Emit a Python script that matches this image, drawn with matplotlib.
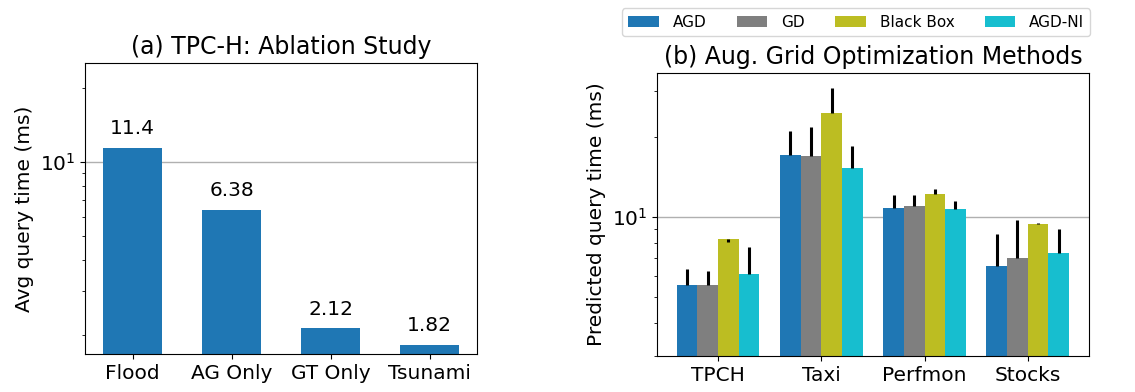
import numpy as np
import matplotlib
matplotlib.use('Agg')
import matplotlib.pyplot as plt
from matplotlib.ticker import NullFormatter

# (a) ablation study
ablation_names = ['Flood', 'AG Only', 'GT Only', 'Tsunami']
ablation_times = [11.4, 6.38, 2.12, 1.82]

# (b) grid optimization methods
datasets = ['TPCH', 'Taxi', 'Perfmon', 'Stocks']
methods = ['AGD', 'GD', 'Black Box', 'AGD-NI']
method_colors = ['tab:blue', 'tab:gray', 'tab:olive', 'tab:cyan']
pred_times = {
    'AGD':       [5.57, 17.1, 10.8, 6.53],
    'GD':        [5.57, 17.0, 11.0, 7.02],
    'Black Box': [8.26, 24.8, 12.2, 9.41],
    'AGD-NI':    [6.10, 15.3, 10.7, 7.30],
}
err_low = {
    'AGD':       [0.0, 0.0, 0.0, 0.0],
    'GD':        [0.0, 0.0, 0.0, 0.0],
    'Black Box': [0.23, 0.0, 0.0, 0.0],
    'AGD-NI':    [0.0, 0.0, 0.0, 0.0],
}
err_high = {
    'AGD':       [0.81, 4.1, 1.3, 2.15],
    'GD':        [0.70, 4.8, 1.1, 2.75],
    'Black Box': [0.0, 6.0, 0.6, 0.11],
    'AGD-NI':    [1.65, 3.2, 0.8, 1.69],
}

plt.rcParams['font.size'] = 14.5

fig = plt.figure(figsize=(11.35, 3.92), dpi=100)

# left panel
ax1 = fig.add_axes([0.0749, 0.097, 0.3454, 0.743])
x = np.arange(len(ablation_names))
bars = ax1.bar(x, ablation_times, width=0.6, color='tab:blue')
ax1.set_yscale('log')
ax1.set_ylim(1.67, 25.2)
ax1.set_xticks(x)
ax1.set_xticklabels(ablation_names)
ax1.set_ylabel('Avg query time (ms)')
ax1.set_title('(a) TPC-H: Ablation Study', fontsize=17)
for b, v in zip(bars, ablation_times):
    ax1.annotate('{:g}'.format(v), (b.get_x() + b.get_width() / 2, v),
                 xytext=(0, 7), textcoords='offset points',
                 ha='center', va='bottom')
ax1.yaxis.set_minor_formatter(NullFormatter())
ax1.yaxis.grid(True, which='major', color='#b0b0b0', lw=1)
ax1.set_axisbelow(True)

# right panel
ax2 = fig.add_axes([0.5789, 0.092, 0.3803, 0.723])
x = np.arange(len(datasets))
w = 0.2
for i, m in enumerate(methods):
    pos = x + (i - 1.5) * w
    ax2.bar(pos, pred_times[m], width=w, color=method_colors[i], label=m,
            yerr=[err_low[m], err_high[m]],
            error_kw=dict(ecolor='black', elinewidth=2.2, capsize=0))
ax2.set_yscale('log')
ax2.set_ylim(3.0, 35.1)
ax2.set_xticks(x)
ax2.set_xticklabels(datasets)
ax2.set_ylabel('Predicted query time (ms)')
ax2.set_title('(b) Aug. Grid Optimization Methods', fontsize=17)
ax2.yaxis.set_minor_formatter(NullFormatter())
ax2.yaxis.grid(True, which='major', color='#b0b0b0', lw=1)
ax2.set_axisbelow(True)
ax2.legend(ncol=4, loc='lower right', bbox_to_anchor=(1.004, 1.13),
           borderaxespad=0, fontsize=11, columnspacing=2.0,
           handlelength=2.0, handletextpad=0.9)

plt.savefig('out.png', dpi=100)
plt.close()
